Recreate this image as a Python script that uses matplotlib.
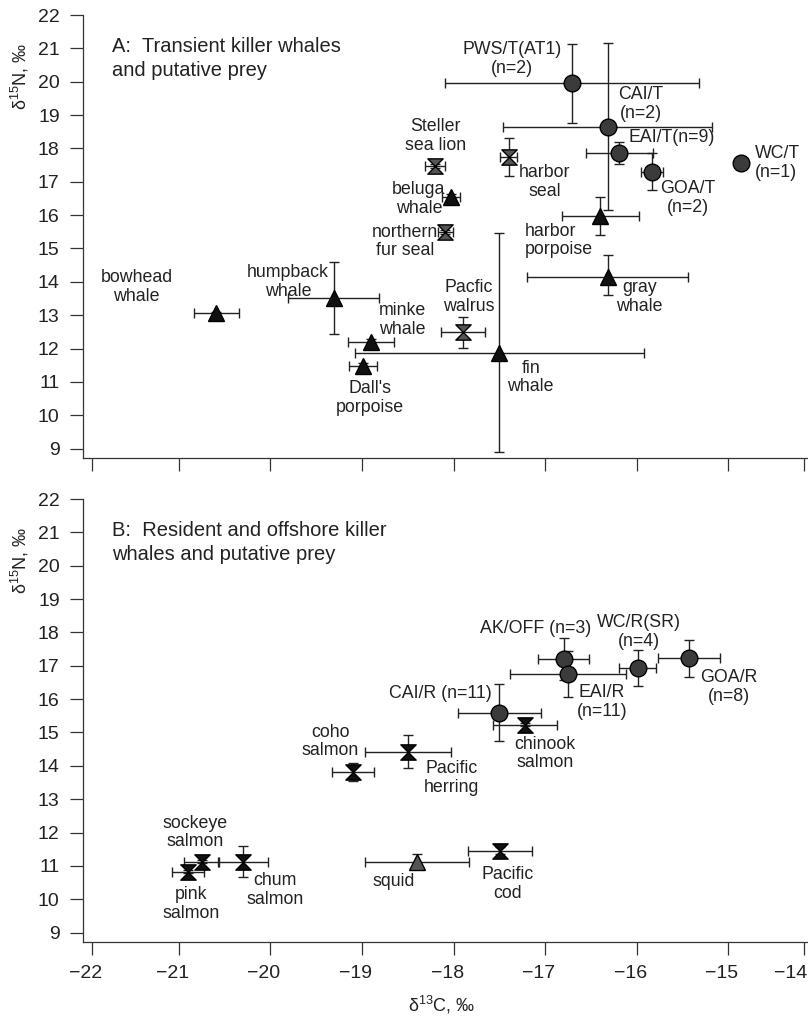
import numpy as np
import matplotlib
matplotlib.use('Agg')
import matplotlib.pyplot as plt
from matplotlib.path import Path
from matplotlib.transforms import ScaledTranslation

plt.rcParams['font.family'] = ['Liberation Sans', 'DejaVu Sans']
plt.rcParams['mathtext.fontset'] = 'custom'
plt.rcParams['mathtext.rm'] = 'Liberation Sans'
plt.rcParams['mathtext.default'] = 'regular'

# ---- Panel A: transient killer whales (circles) ----
kwA_x = [-16.71, -16.32, -16.19, -15.84, -14.86]
kwA_y = [19.95, 18.65, 17.87, 17.30, 17.55]
kwA_xerr = [1.39, 1.14, 0.37, 0.12, 0.0]
kwA_yerr = [1.18, 2.51, 0.33, 0.55, 0.0]

# cetaceans (black triangles): bowhead, humpback, minke, Dall's, beluga, fin, harbor porpoise, gray
cet_x = [-20.59, -19.31, -18.90, -18.99, -18.03, -17.50, -16.40, -16.32]
cet_y = [13.06, 13.52, 12.21, 11.48, 16.54, 11.86, 15.97, 14.16]
cet_xerr = [0.25, 0.50, 0.25, 0.15, 0.10, 1.58, 0.42, 0.88]
cet_yerr_lo = [0.05, 1.07, 0.08, 0.10, 0.08, 2.95, 0.57, 0.55]
cet_yerr_hi = [0.05, 1.07, 0.08, 0.10, 0.08, 3.61, 0.58, 0.65]

# pinnipeds (grey hourglass): Steller, harbor seal, northern fur seal, walrus
pin_x = [-18.20, -17.40, -18.09, -17.90]
pin_y = [17.48, 17.75, 15.49, 12.49]
pin_xerr = [0.11, 0.09, 0.08, 0.24]
pin_yerr = [0.06, 0.57, 0.05, 0.47]

# ---- Panel B: resident / offshore killer whales (circles) ----
kwB_x = [-16.80, -16.75, -15.99, -15.43, -17.50]
kwB_y = [17.20, 16.75, 16.92, 17.22, 15.59]
kwB_xerr = [0.28, 0.63, 0.20, 0.34, 0.45]
kwB_yerr = [0.62, 0.69, 0.54, 0.55, 0.86]

# fish (black hourglass): chinook, herring, coho, cod, sockeye, pink, chum
fish_x = [-17.22, -18.50, -19.10, -17.49, -20.75, -20.90, -20.30]
fish_y = [15.23, 14.43, 13.83, 11.46, 11.13, 10.83, 11.13]
fish_xerr = [0.35, 0.47, 0.23, 0.35, 0.19, 0.17, 0.27]
fish_yerr = [0.05, 0.48, 0.27, 0.10, 0.05, 0.05, 0.47]

# squid (grey triangle)
squid_x = [-18.40]
squid_y = [11.13]
squid_xerr = [0.565]
squid_yerr = [0.22]

# point labels: (text, x, y, ha)
labels_A = [
    ("PWS/T(AT1)\n(n=2)", -17.36, 20.68, 'center'),
    ("CAI/T\n(n=2)", -15.955, 19.33, 'center'),
    ("EAI/T(n=9)", -15.62, 18.32, 'center'),
    ("WC/T\n(n=1)", -14.71, 17.56, 'left'),
    ("GOA/T\n(n=2)", -15.44, 16.51, 'center'),
    ("Steller\nsea lion", -18.20, 18.37, 'center'),
    ("harbor\nseal", -17.01, 16.99, 'center'),
    ("beluga\nwhale", -18.38, 16.48, 'center'),
    ("northern\nfur seal", -18.53, 15.21, 'center'),
    ("humpback\nwhale", -19.81, 14.0, 'center'),
    ("bowhead\nwhale", -21.46, 13.85, 'center'),
    ("Pacfic\nwalrus", -17.84, 13.55, 'center'),
    ("minke\nwhale", -18.56, 12.86, 'center'),
    ("fin\nwhale", -17.16, 11.13, 'center'),
    ("Dall's\nporpoise", -18.91, 10.52, 'center'),
    ("harbor\nporpoise", -17.22, 15.24, 'left'),
    ("gray\nwhale", -15.97, 13.55, 'center'),
]
labels_B = [
    ("AK/OFF (n=3)", -17.11, 18.12, 'center'),
    ("WC/R(SR)\n(n=4)", -15.98, 18.02, 'center'),
    ("GOA/R\n(n=8)", -15.0, 16.37, 'center'),
    ("CAI/R (n=11)", -18.15, 16.18, 'center'),
    ("EAI/R\n(n=11)", -16.38, 15.92, 'center'),
    ("chinook\nsalmon", -17.0, 14.37, 'center'),
    ("coho\nsalmon", -19.35, 14.73, 'center'),
    ("Pacific\nherring", -18.02, 13.64, 'center'),
    ("sockeye\nsalmon", -20.82, 12.0, 'center'),
    ("pink\nsalmon", -20.87, 9.86, 'center'),
    ("chum\nsalmon", -19.95, 10.28, 'center'),
    ("squid", -18.66, 10.53, 'center'),
    ("Pacific\ncod", -17.41, 10.46, 'center'),
]

yticks = list(range(9, 23))
xtick_labels = ['\u221222', '\u221221', '\u221220', '\u221219', '\u221218',
                '\u221217', '\u221216', '\u221215', '\u221214']
# the end ticks sit slightly inside in the original figure
xtick_pos = [-21.95, -21, -20, -19, -18, -17, -16, -15, -14.18]

# hourglass marker
hg = Path([(-1, 1), (1, 1), (0, 0), (-1, 1), (-1, -1), (1, -1), (0, 0), (-1, -1)],
          [Path.MOVETO, Path.LINETO, Path.LINETO, Path.CLOSEPOLY] * 2)

dark = '#222222'
W, H = 808, 1019
fig = plt.figure(figsize=(W / 100, H / 100), dpi=100)
axA = fig.add_axes([82.7 / W, 1 - 458.3 / H, (W - 82.7) / W, 443.3 / H])
axB = fig.add_axes([82.7 / W, 1 - 942.3 / H, (W - 82.7) / W, 443.3 / H])


def group(ax, x, y, xe, ye, marker, ms, fc):
    ax.errorbar(x, y, xerr=xe, yerr=ye, fmt='none', ecolor=dark,
                elinewidth=1.0, capsize=3.8, capthick=1.0, zorder=2)
    ax.plot(x, y, ls='none', marker=marker, ms=ms, mfc=fc, mec='black',
            mew=1.0, zorder=3)


group(axA, kwA_x, kwA_y, kwA_xerr, kwA_yerr, 'o', 12, '#3b3b3b')
group(axA, cet_x, cet_y, cet_xerr, [cet_yerr_lo, cet_yerr_hi], '^', 11, '#111111')
group(axA, pin_x, pin_y, pin_xerr, pin_yerr, hg, 11, '#555555')

group(axB, kwB_x, kwB_y, kwB_xerr, kwB_yerr, 'o', 12, '#3b3b3b')
group(axB, fish_x, fish_y, fish_xerr, fish_yerr, hg, 11, '#111111')
group(axB, squid_x, squid_y, squid_xerr, squid_yerr, '^', 11, '#555555')

for ax, labs in ((axA, labels_A), (axB, labels_B)):
    for txt, lx, ly, ha in labs:
        ax.text(lx, ly, txt, ha=ha, va='center', fontsize=12.8, color=dark,
                linespacing=1.12)

axA.text(0.0404, 0.902, "A:  Transient killer whales\nand putative prey",
         transform=axA.transAxes, ha='left', va='center', fontsize=14.5,
         color=dark, linespacing=1.3)
axB.text(0.0404, 0.902, "B:  Resident and offshore killer\nwhales and putative prey",
         transform=axB.transAxes, ha='left', va='center', fontsize=14.5,
         color=dark, linespacing=1.3)

for ax in (axA, axB):
    ax.set_xlim(-22.05, -14.132)
    ax.set_ylim(8.71, 22)
    ax.set_yticks(yticks)
    ax.set_xticks(xtick_pos)
    ax.set_xticklabels(xtick_labels)
    for s in ('top', 'right'):
        ax.spines[s].set_visible(False)
    for s in ('left', 'bottom'):
        ax.spines[s].set_color('#333333')
        ax.spines[s].set_linewidth(0.9)
    ax.spines['left'].set_bounds(8.71, 22)
    ax.tick_params(direction='out', length=9.6, width=0.9, color='#333333',
                   labelsize=14, labelcolor=dark, pad=7)
    ax.patch.set_visible(False)

axA.tick_params(axis='x', labelbottom=False)

# digits centred on the tick, minus sign hanging to the left
ticks = axB.xaxis.get_major_ticks()
for i, t in enumerate(ticks):
    shift = -6.5 if i < len(ticks) - 1 else -12.5
    t.label1.set_transform(t.label1.get_transform() +
                           ScaledTranslation(shift / 100, 0, fig.dpi_scale_trans))

fig.text(20 / W, 1 - 76 / H, '\u03b4$^{15}$N, \u2030', rotation=90,
         ha='center', va='center', fontsize=13, color=dark)
fig.text(20 / W, 1 - 560 / H, '\u03b4$^{15}$N, \u2030', rotation=90,
         ha='center', va='center', fontsize=13, color=dark)
fig.text(442 / W, 1 - 1005 / H, '\u03b4$^{13}$C, \u2030',
         ha='center', va='center', fontsize=13, color=dark)

fig.savefig('out.png', dpi=100)
